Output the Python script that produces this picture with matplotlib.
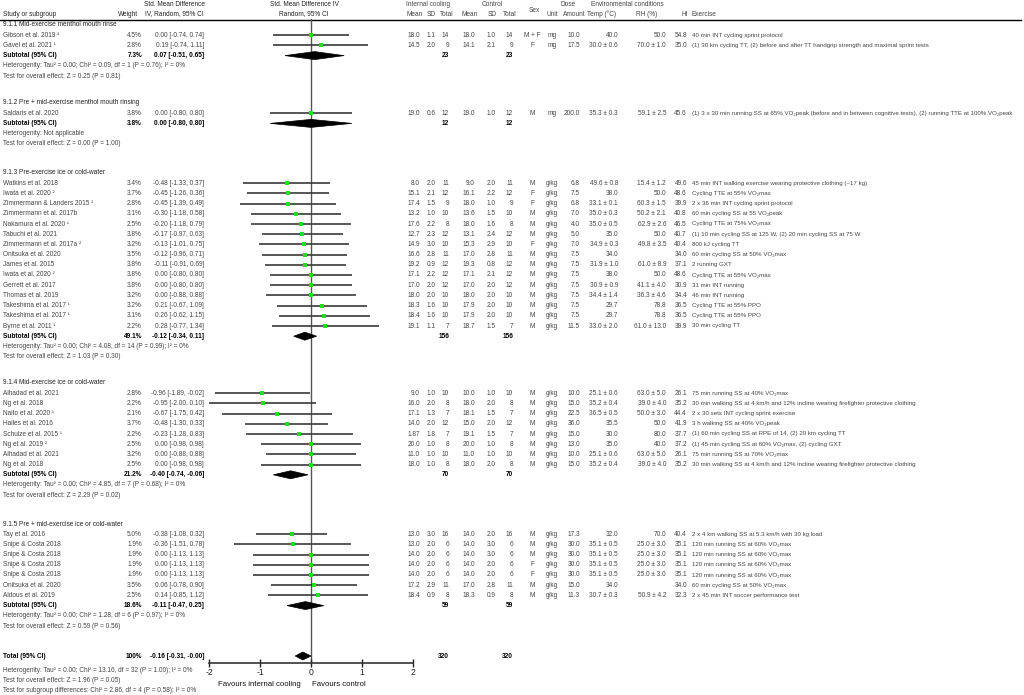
import matplotlib
matplotlib.use('Agg')
import matplotlib.pyplot as plt
from matplotlib.patches import Polygon
from matplotlib.transforms import blended_transform_factory

plt.rcParams['font.family'] = ['Liberation Sans', 'DejaVu Sans']

# --- data ---
sections = ['9.1.1 Mid-exercise menthol mouth rinse',
            '9.1.2 Pre + mid-exercise menthol mouth rinsing',
            '9.1.3 Pre-exercise ice or cold-water',
            '9.1.4 Mid-exercise ice or cold-water',
            '9.1.5 Pre + mid-exercise ice or cold-water']

study = ['Gibson et al. 2019 ²', 'Gavel et al. 2021 ¹',
         'Saldaris et al. 2020',
         'Watkins et al. 2018', 'Iwata et al. 2020 ²', 'Zimmermann & Landers 2015 ²',
         'Zimmermann et al. 2017b', 'Nakamura et al. 2020 ¹', 'Tabuchi et al. 2021',
         'Zimmermann et al. 2017a ²', 'Onitsuka et al. 2020', 'James et al. 2015',
         'Iwata et al. 2020 ²', 'Gerrett et al. 2017', 'Thomas et al. 2019',
         'Takeshima et al. 2017 ¹', 'Takeshima et al. 2017 ¹', 'Byrne et al. 2011 ¹',
         'Alhadad et al. 2021', 'Ng et al. 2018', 'Naito et al. 2020 ¹', 'Hailes et al. 2016',
         'Schulze et al. 2015 ¹', 'Ng et al. 2019 ²', 'Alhadad et al. 2021', 'Ng et al. 2018',
         'Tay et al. 2016', 'Snipe & Costa 2018', 'Snipe & Costa 2018', 'Snipe & Costa 2018',
         'Snipe & Costa 2018', 'Onitsuka et al. 2020', 'Aldous et al. 2019']
group = [0, 0, 1] + [2] * 15 + [3] * 8 + [4] * 7

weight = [4.5, 2.8, 3.8,
          3.4, 3.7, 2.8, 3.1, 2.5, 3.8, 3.2, 3.5, 3.8, 3.8, 3.8, 3.2, 3.2, 3.1, 2.2,
          2.8, 2.2, 2.1, 3.7, 2.2, 2.5, 3.2, 2.5,
          5.0, 1.9, 1.9, 1.9, 1.9, 3.5, 2.5]
smd = [0.00, 0.19, 0.00,
       -0.48, -0.45, -0.45, -0.30, -0.20, -0.17, -0.13, -0.12, -0.11, 0.00, 0.00, 0.00, 0.21, 0.26, 0.28,
       -0.96, -0.95, -0.67, -0.48, -0.23, 0.00, 0.00, 0.00,
       -0.38, -0.36, 0.00, 0.00, 0.00, 0.06, 0.14]
ci_lo = [-0.74, -0.74, -0.80,
         -1.33, -1.26, -1.39, -1.18, -1.18, -0.97, -1.01, -0.96, -0.91, -0.80, -0.80, -0.88, -0.67, -0.62, -0.77,
         -1.89, -2.00, -1.75, -1.30, -1.28, -0.98, -0.88, -0.98,
         -1.08, -1.51, -1.13, -1.13, -1.13, -0.78, -0.85]
ci_hi = [0.74, 1.11, 0.80,
         0.37, 0.36, 0.49, 0.58, 0.79, 0.63, 0.75, 0.71, 0.69, 0.80, 0.80, 0.88, 1.09, 1.15, 1.34,
         -0.02, 0.10, 0.42, 0.33, 0.83, 0.98, 0.88, 0.98,
         0.32, 0.78, 1.13, 1.13, 1.13, 0.90, 1.12]

ic_mean = ['18.0', '14.5', '19.0',
           '8.0', '15.1', '17.4', '13.2', '17.6', '12.7', '14.9', '16.6', '19.2', '17.1', '17.0', '18.0', '18.3', '18.4', '19.1',
           '9.0', '16.0', '17.1', '14.0', '1.87', '20.0', '11.0', '18.0',
           '13.0', '13.0', '14.0', '14.0', '14.0', '17.2', '18.4']
ic_sd = ['1.1', '2.0', '0.6',
         '2.0', '2.1', '1.5', '1.0', '2.2', '2.3', '3.0', '2.8', '0.9', '2.2', '2.0', '2.0', '1.6', '1.6', '1.1',
         '1.0', '2.0', '1.3', '2.0', '1.8', '1.0', '1.0', '1.0',
         '3.0', '2.0', '2.0', '2.0', '2.0', '2.9', '0.9']
ic_n = [14, 9, 12,
        11, 12, 9, 10, 8, 12, 10, 11, 12, 12, 12, 10, 10, 10, 7,
        10, 8, 7, 12, 7, 8, 10, 8,
        16, 6, 6, 6, 6, 11, 8]
ct_mean = ['18.0', '14.1', '19.0',
           '9.0', '16.1', '18.0', '13.6', '18.0', '13.1', '15.3', '17.0', '19.3', '17.1', '17.0', '18.0', '17.9', '17.9', '18.7',
           '10.0', '18.0', '18.1', '15.0', '19.1', '20.0', '11.0', '18.0',
           '14.0', '14.0', '14.0', '14.0', '14.0', '17.0', '18.3']
ct_sd = ['1.0', '2.1', '1.0',
         '2.0', '2.2', '1.0', '1.5', '1.6', '2.4', '2.9', '2.8', '0.8', '2.1', '2.0', '2.0', '2.0', '2.0', '1.5',
         '1.0', '2.0', '1.5', '2.0', '1.5', '1.0', '1.0', '2.0',
         '2.0', '3.0', '3.0', '2.0', '2.0', '2.8', '0.9']
ct_n = ic_n
sex = ['M + F', 'F', 'M',
       'M', 'F', 'F', 'M', 'M', 'M', 'F', 'M', 'M', 'M', 'M', 'M', 'M', 'M', 'M',
       'M', 'M', 'M', 'M', 'M', 'M', 'M', 'M',
       'M', 'M', 'M', 'F', 'F', 'M', 'M']
unit = ['mg', 'mg', 'mg'] + ['g/kg'] * 30
amount = ['10.0', '17.5', '200.0',
          '6.8', '7.5', '6.8', '7.0', '4.0', '5.0', '7.0', '7.5', '7.5', '7.5', '7.5', '7.5', '7.5', '7.5', '11.5',
          '10.0', '15.0', '22.5', '36.0', '15.0', '13.0', '10.0', '15.0',
          '17.3', '30.0', '30.0', '30.0', '30.0', '15.0', '11.3']
temp = ['40.0', '30.0 ± 0.6', '35.3 ± 0.3',
        '49.6 ± 0.8', '38.0', '33.1 ± 0.1', '35.0 ± 0.3', '35.0 ± 0.5', '35.0', '34.9 ± 0.3', '34.0',
        '31.9 ± 1.0', '38.0', '30.9 ± 0.9', '34.4 ± 1.4', '29.7', '29.7', '33.0 ± 2.0',
        '25.1 ± 0.6', '35.2 ± 0.4', '36.5 ± 0.5', '35.5', '30.0', '35.0', '25.1 ± 0.6', '35.2 ± 0.4',
        '32.0', '35.1 ± 0.5', '35.1 ± 0.5', '35.1 ± 0.5', '35.1 ± 0.5', '34.0', '30.7 ± 0.3']
rh = ['50.0', '70.0 ± 1.0', '59.1 ± 2.5',
      '15.4 ± 1.2', '50.0', '60.3 ± 1.5', '50.2 ± 2.1', '62.9 ± 2.6', '50.0', '49.8 ± 3.5', '',
      '61.0 ± 8.9', '50.0', '41.1 ± 4.0', '36.3 ± 4.6', '78.8', '78.8', '61.0 ± 13.0',
      '63.0 ± 5.0', '39.0 ± 4.0', '50.0 ± 3.0', '50.0', '80.0', '40.0', '63.0 ± 5.0', '39.0 ± 4.0',
      '70.0', '25.0 ± 3.0', '25.0 ± 3.0', '25.0 ± 3.0', '25.0 ± 3.0', '', '50.9 ± 4.2']
hi = ['54.8', '35.0', '45.6',
      '49.6', '48.6', '39.9', '40.8', '46.5', '40.7', '40.4', '34.0', '37.1', '48.6', '30.9', '34.4', '36.5', '36.5', '39.9',
      '26.1', '35.2', '44.4', '41.9', '37.7', '37.2', '26.1', '35.2',
      '40.4', '35.1', '35.1', '35.1', '35.1', '34.0', '32.3']
exercise = ['40 min INT cycling sprint protocol',
            '(1) 30 km cycling TT, (2) before and after TT handgrip strength and maximal sprint tests',
            '(1) 3 x 30 min running SS at 65% VO₂peak (before and in between cognitive tests), (2) running TTE at 100% VO₂peak',
            '45 min INT walking exercise wearing protective clothing (~17 kg)',
            'Cycling TTE at 55% VO₂max',
            '2 x 36 min INT cycling sprint protocol',
            '60 min cycling SS at 55 VO₂peak',
            'Cycling TTE at 75% VO₂max',
            '(1) 10 min cycling SS at 125 W, (2) 20 min cycling SS at 75 W',
            '800 kJ cycling TT',
            '60 min cycling SS at 50% VO₂max',
            '2 running GXT',
            'Cycling TTE at 55% VO₂max',
            '31 min INT running',
            '46 min INT running',
            'Cycling TTE at 55% PPO',
            'Cycling TTE at 55% PPO',
            '30 min cycling TT',
            '75 min running SS at 40% VO₂max',
            '30 min walking SS at 4 km/h and 12% incline wearing firefighter protective clothing',
            '2 x 30 sets INT cycling sprint exercise',
            '3 h walking SS at 40% VO₂peak',
            '(1) 60 min cycling SS at RPE of 14, (2) 20 km cycling TT',
            '(1) 45 min cycling SS at 60% VO₂max, (2) cycling GXT',
            '75 min running SS at 70% VO₂max',
            '30 min walking SS at 4 km/h and 12% incline wearing firefighter protective clothing',
            '2 x 4 km walking SS at 5.3 km/h with 30 kg load',
            '120 min running SS at 60% VO₂max',
            '120 min running SS at 60% VO₂max',
            '120 min running SS at 60% VO₂max',
            '120 min running SS at 60% VO₂max',
            '60 min cycling SS at 50% VO₂max',
            '2 x 45 min INT soccer performance test']

sub_weight = [7.3, 3.8, 49.1, 21.2, 18.6]
sub_smd = [0.07, 0.00, -0.12, -0.40, -0.11]
sub_lo = [-0.51, -0.80, -0.34, -0.74, -0.47]
sub_hi = [0.65, 0.80, 0.11, -0.06, 0.25]
sub_n = [23, 12, 156, 70, 59]
sub_het = ['Heterogenity: Tau² = 0.00; Chi² = 0.09, df = 1 (P = 0.76); I² = 0%',
           'Heterogenity: Not applicable',
           'Heterogenity: Tau² = 0.00; Chi² = 4.08, df = 14 (P = 0.99); I² = 0%',
           'Heterogenity: Tau² = 0.00; Chi² = 4.85, df = 7 (P = 0.68); I² = 0%',
           'Heterogenity: Tau² = 0.00; Chi² = 1.28, df = 6 (P = 0.97); I² = 0%']
sub_z = ['Test for overall effect: Z = 0.25 (P = 0.81)',
         'Test for overall effect: Z = 0.00 (P = 1.00)',
         'Test for overall effect: Z = 1.03 (P = 0.30)',
         'Test for overall effect: Z = 2.29 (P = 0.02)',
         'Test for overall effect: Z = 0.59 (P = 0.56)']

total_smd, total_lo, total_hi = -0.16, -0.31, -0.00
total_n = 320
total_notes = ['Heterogenity: Tau² = 0.00; Chi² = 13.16, df = 32 (P = 1.00); I² = 0%',
               'Test for overall effect: Z = 1.96 (P = 0.05)',
               'Test for subgroup differences: Chi² = 2.86, df = 4 (P = 0.58); I² = 0%']

# --- layout (pixel rows) ---
W, H = 1024, 695
sec_y = [25, 103, 173, 383, 524]
step = 10.2
total_y = 656
total_note_y = [670, 680, 690]
FS = 4.7
FS_EX = 4.4
TXT = '#444444'
HEAD = '#222222'

fig = plt.figure(figsize=(W / 100, H / 100), dpi=100)
tx = fig.add_axes([0, 0, 1, 1])
tx.set_xlim(0, W)
tx.set_ylim(H, 0)
tx.axis('off')

# forest panel: x in SMD units, y in the same pixel rows
fx0, fx1, fy0, fy1 = 209, 413, 19, 663
fa = fig.add_axes([fx0 / W, 1 - fy1 / H, (fx1 - fx0) / W, (fy1 - fy0) / H])
fa.set_xlim(-2, 2)
fa.set_ylim(fy1, fy0)
fa.patch.set_alpha(0)
for sp in ['top', 'left', 'right']:
    fa.spines[sp].set_visible(False)
fa.spines['bottom'].set_color('#333333')
fa.spines['bottom'].set_linewidth(1.2)
fa.set_yticks([])
fa.set_xticks([-2, -1, 0, 1, 2])
fa.set_xticklabels(['-2', '-1', '0', '1', '2'])
fa.tick_params(axis='x', direction='inout', length=6, width=1, pad=0.5, labelsize=6.2, colors='#222222')
fa.axvline(0, color='#555555', lw=1, zorder=1)


def txt(x, y, s, ha='left', bold=False, color=None, size=FS):
    tx.text(x, y, s, ha=ha, va='center', fontsize=size,
            fontweight='bold' if bold else 'normal',
            color=color or ('black' if bold else TXT))


def diamond(y, est, lo, hi):
    fa.add_patch(Polygon([(lo, y), (est, y - 4), (hi, y), (est, y + 4)],
                         closed=True, facecolor='black', edgecolor='black', lw=0.5, zorder=3))


# header
txt(3, 14, 'Study or subgroup', color=HEAD)
txt(138, 14, 'Weight', ha='right', color=HEAD)
txt(174, 5, 'Std. Mean Difference', ha='center', color=HEAD)
txt(174, 14, 'IV, Random, 95% CI', ha='center', color=HEAD)
txt(304, 5, 'Std. Mean Difference IV', ha='center', color=HEAD)
txt(304, 14, 'Random, 95% CI', ha='center', color=HEAD)
txt(428, 5, 'Internal cooling', ha='center')
txt(492, 5, 'Control', ha='center')
for x, s in [(415, 'Mean'), (431, 'SD'), (447, 'Total'), (470, 'Mean'), (492, 'SD'), (510, 'Total')]:
    txt(x, 14, s, ha='center')
txt(534, 10, 'Sex', ha='center')
txt(568, 5, 'Dose', ha='center')
txt(552, 14, 'Unit', ha='center')
txt(574, 14, 'Amount', ha='center')
txt(627, 5, 'Environmental conditions', ha='center')
txt(602, 14, 'Temp (°C)', ha='center')
txt(647, 14, 'RH (%)', ha='center')
txt(685, 14, 'HI', ha='center')
txt(691, 14, 'Exercise')
tx.plot([0, 1021], [19.5, 19.5], color='black', lw=1)

# sections
for s, title in enumerate(sections):
    y0 = sec_y[s]
    txt(3, y0, title, color=HEAD)
    idx = [i for i, g in enumerate(group) if g == s]
    for k, i in enumerate(idx):
        y = y0 + step * (k + 1)
        txt(3, y, study[i])
        txt(142, y, f'{weight[i]:.1f}%', ha='right')
        txt(204, y, f'{smd[i]:.2f} [{ci_lo[i]:.2f}, {ci_hi[i]:.2f}]', ha='right')
        txt(420, y, ic_mean[i], ha='right')
        txt(436, y, ic_sd[i], ha='right')
        txt(449, y, str(ic_n[i]), ha='right')
        txt(475, y, ct_mean[i], ha='right')
        txt(496, y, ct_sd[i], ha='right')
        txt(513, y, str(ct_n[i]), ha='right')
        txt(532, y, sex[i], ha='center')
        txt(552, y, unit[i], ha='center')
        txt(580, y, amount[i], ha='right')
        txt(618, y, temp[i], ha='right')
        txt(666, y, rh[i], ha='right')
        txt(687, y, hi[i], ha='right')
        txt(692, y, exercise[i], size=FS_EX)
        fa.plot([ci_lo[i], ci_hi[i]], [y, y], color='#3a3a3a', lw=1.2, zorder=2, solid_capstyle='butt')
        fa.plot([smd[i]], [y], marker='s', ms=2.4, color='#22dd22', mew=0, zorder=4)
    n = len(idx)
    ys = y0 + step * (n + 1)
    txt(3, ys, 'Subtotal (95% CI)', bold=True)
    txt(142, ys, f'{sub_weight[s]:.1f}%', ha='right', bold=True)
    txt(204, ys, f'{sub_smd[s]:.2f} [{sub_lo[s]:.2f}, {sub_hi[s]:.2f}]', ha='right', bold=True)
    txt(449, ys, str(sub_n[s]), ha='right', bold=True)
    txt(513, ys, str(sub_n[s]), ha='right', bold=True)
    diamond(ys, sub_smd[s], sub_lo[s], sub_hi[s])
    txt(3, ys + step, sub_het[s])
    txt(3, ys + 2 * step, sub_z[s])

# overall
txt(3, total_y, 'Total (95% CI)', bold=True)
txt(142, total_y, '100%', ha='right', bold=True)
txt(204, total_y, f'{total_smd:.2f} [{total_lo:.2f}, -{abs(total_hi):.2f}]', ha='right', bold=True)
txt(449, total_y, str(total_n), ha='right', bold=True)
txt(513, total_y, str(total_n), ha='right', bold=True)
diamond(total_y, total_smd, total_lo, total_hi)
for y, s in zip(total_note_y, total_notes):
    txt(3, y, s)

# favours labels under the axis
tr = blended_transform_factory(fa.transData, tx.transData)
fa.text(-0.2, 684, 'Favours internal cooling', transform=tr, ha='right', va='center',
        fontsize=5.6, color='#111111')
fa.text(0.02, 684, 'Favours control', transform=tr, ha='left', va='center',
        fontsize=5.6, color='#111111')

fig.savefig('out.png', dpi=100)
